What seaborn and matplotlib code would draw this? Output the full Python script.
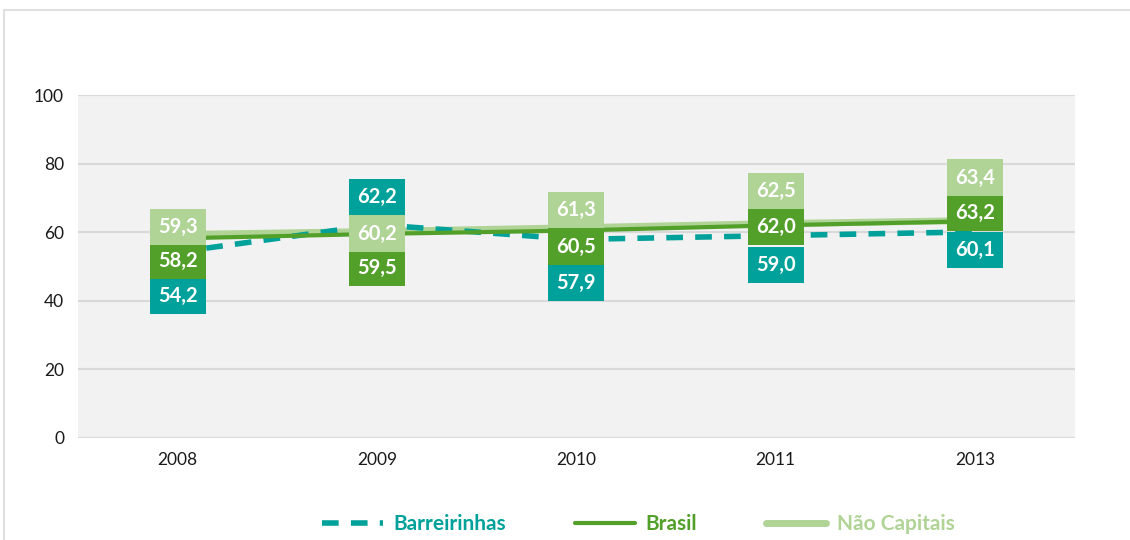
import pandas as pd
import matplotlib.pyplot as plt
import seaborn as sns
from matplotlib.patches import Rectangle

# ── Data ───────────────────────────────────────────────
anos = ["2008", "2009", "2010", "2011", "2013"]
barreirinhas = [54.2, 62.2, 57.9, 59.0, 60.1]
brasil = [58.2, 59.5, 60.5, 62.0, 63.2]
nao_capitais = [59.3, 60.2, 61.3, 62.5, 63.4]

# label offsets (pixels, + = down) of each data label relative to its point
off_barreirinhas = [44, -28, 44, 29, 18]
off_brasil = [23, 34, 16, 2, -8]
off_nao_capitais = [-8, 2, -18, -33, -43]

TEAL = "#00a19a"
GREEN = "#52a02a"
LIGHT = "#b0d396"

sns.set_theme(style="white")
plt.rcParams["font.family"] = ["Lato", "DejaVu Sans"]

df = pd.DataFrame({
    "Ano": anos * 3,
    "Valor": barreirinhas + brasil + nao_capitais,
    "Serie": ["Barreirinhas"] * 5 + ["Brasil"] * 5 + ["Não Capitais"] * 5,
})

fig = plt.figure(figsize=(11.3, 5.4), dpi=100)
ax = fig.add_axes([0.069, 0.189, 0.882, 0.635])
ax.set_facecolor("#f2f2f2")

# outer chart border
fig.patches.append(Rectangle((4 / 1130, -0.1), 1.2, 1.1 - 10 / 540,
                             transform=fig.transFigure, fill=False,
                             edgecolor="#d9d9d9", linewidth=1.2, zorder=0))

styles = {
    "Não Capitais": dict(color=LIGHT, lw=5, ls="-", z=2),
    "Brasil": dict(color=GREEN, lw=3, ls="-", z=3),
    "Barreirinhas": dict(color=TEAL, lw=4, ls=(0, (3, 2.2)), z=2.5),
}
for serie in ["Não Capitais", "Brasil", "Barreirinhas"]:
    st = styles[serie]
    sub = df[df["Serie"] == serie]
    sns.lineplot(data=sub, x="Ano", y="Valor", ax=ax, color=st["color"],
                 linewidth=st["lw"], linestyle=st["ls"], sort=False,
                 zorder=st["z"], label=serie, legend=False)

# data labels
for serie, vals, offs, col in [("Barreirinhas", barreirinhas, off_barreirinhas, TEAL),
                               ("Brasil", brasil, off_brasil, GREEN),
                               ("Não Capitais", nao_capitais, off_nao_capitais, LIGHT)]:
    for i, (v, o) in enumerate(zip(vals, offs)):
        ax.annotate(f"{v:.1f}".replace(".", ","), (i, v),
                    xytext=(0, -o * 0.72), textcoords="offset points",
                    ha="center", va="center", color="white", fontsize=14.5,
                    fontweight="bold", zorder=10,
                    bbox=dict(boxstyle="square,pad=0.4", fc=col, ec="none"))

ax.set_ylim(0, 100)
ax.set_xlim(-0.5, 4.5)
ax.set_yticks(range(0, 101, 20))
ax.grid(axis="y", color="#d9d9d9", linewidth=1.5)
ax.set_axisbelow(True)
for s in ax.spines.values():
    s.set_visible(False)
ax.tick_params(axis="both", length=0, labelsize=12.5, colors="#1a1a1a", pad=10)
ax.set_xlabel("")
ax.set_ylabel("")

handles, labels = ax.get_legend_handles_labels()
order = [labels.index(n) for n in ["Barreirinhas", "Brasil", "Não Capitais"]]
leg = fig.legend([handles[k] for k in order], [labels[k] for k in order],
                 loc="center", bbox_to_anchor=(0.565, 0.03), ncol=3, frameon=False,
                 handlelength=2.9, columnspacing=3.3, handletextpad=0.5,
                 labelcolor="linecolor", prop={"weight": "bold", "size": 15})

fig.savefig("out.png", dpi=100)
